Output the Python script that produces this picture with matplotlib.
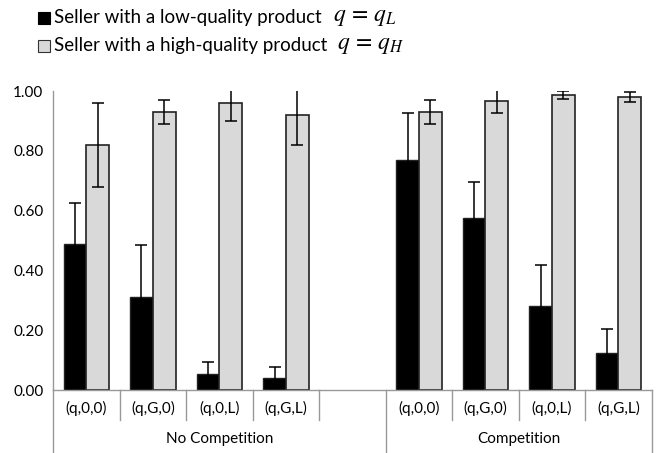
import matplotlib
matplotlib.use('Agg')
import matplotlib.pyplot as plt
from matplotlib.patches import Rectangle
import numpy as np

# categories (5th slot of the first group is empty)
cats = ['(q,0,0)', '(q,G,0)', '(q,0,L)', '(q,G,L)']
groups = ['No Competition', 'Competition']

# low-quality seller (q = q_L)
low_nc = [0.49, 0.31, 0.055, 0.04]
low_nc_err = [0.135, 0.175, 0.04, 0.038]
low_c = [0.77, 0.575, 0.28, 0.125]
low_c_err = [0.155, 0.12, 0.138, 0.08]

# high-quality seller (q = q_H)
high_nc = [0.82, 0.93, 0.96, 0.92]
high_nc_err = [0.14, 0.04, 0.06, 0.10]
high_c = [0.93, 0.966, 0.987, 0.98]
high_c_err = [0.04, 0.04, 0.013, 0.018]

plt.rcParams['font.family'] = ['Lato', 'DejaVu Sans']
plt.rcParams['mathtext.fontset'] = 'stix'

fig = plt.figure(figsize=(6.57, 4.53), dpi=100)
ax = fig.add_axes([0.081, 0.139, 0.911, 0.66])

pos = np.array([0, 1, 2, 3, 5, 6, 7, 8])
low = low_nc + low_c
low_err = low_nc_err + low_c_err
high = high_nc + high_c
high_err = high_nc_err + high_c_err
w = 0.345

ekw = dict(ecolor='black', elinewidth=1.1, capsize=4, capthick=1.1)
ax.bar(pos - w/2, low, w, color='black', edgecolor='#222222', linewidth=1,
       yerr=low_err, error_kw=ekw, zorder=2)
ax.bar(pos + w/2, high, w, color='#d9d9d9', edgecolor='#222222', linewidth=1.2,
       yerr=high_err, error_kw=ekw, zorder=2)

ax.set_xlim(-0.5, 8.5)
ax.set_ylim(0, 1.0)
ax.set_yticks(np.arange(0, 1.01, 0.2))
ax.set_yticklabels([f'{v:.2f}' for v in np.arange(0, 1.01, 0.2)], fontsize=11)
ax.tick_params(axis='y', length=0, pad=7)

ax.set_xticks(pos)
ax.set_xticklabels(cats + cats, fontsize=11)
ax.tick_params(axis='x', length=0, pad=8)

for s in ['top', 'right']:
    ax.spines[s].set_visible(False)
for s in ['left', 'bottom']:
    ax.spines[s].set_color('#999999')
    ax.spines[s].set_linewidth(1)

# category separators below the axis
trans = ax.get_xaxis_transform()
short = [0.5, 1.5, 2.5, 3.5, 6.5, 7.5, 5.5]
for x in short:
    ax.plot([x, x], [0, -0.10], transform=trans, color='#999999', lw=1, clip_on=False)
for x in [-0.5, 4.5, 8.5]:
    ax.plot([x, x], [0, -0.22], transform=trans, color='#999999', lw=1, clip_on=False)

ax.text(2.0, -0.163, groups[0], transform=trans, ha='center', va='center', fontsize=11)
ax.text(6.5, -0.163, groups[1], transform=trans, ha='center', va='center', fontsize=11)

# legend drawn by hand (mixed text + math sizes)
fig.add_artist(Rectangle((38/657, 1 - 24/453), 12/657, 12/453, transform=fig.transFigure,
                         facecolor='black', edgecolor='black', lw=0.8))
fig.add_artist(Rectangle((38/657, 1 - 52/453), 12/657, 12/453, transform=fig.transFigure,
                         facecolor='#d9d9d9', edgecolor='#333333', lw=0.8))
fig.text(54/657, 1 - 18/453, 'Seller with a low-quality product', fontsize=13.5, va='center')
fig.text(54/657, 1 - 46/453, 'Seller with a high-quality product', fontsize=13.5, va='center')
fig.text(333/657, 1 - 17/453, r'$q\,=\,q_L$', fontsize=17, va='center')
fig.text(337/657, 1 - 45/453, r'$q\,=\,q_H$', fontsize=17, va='center')

fig.savefig('out.png', dpi=100)
